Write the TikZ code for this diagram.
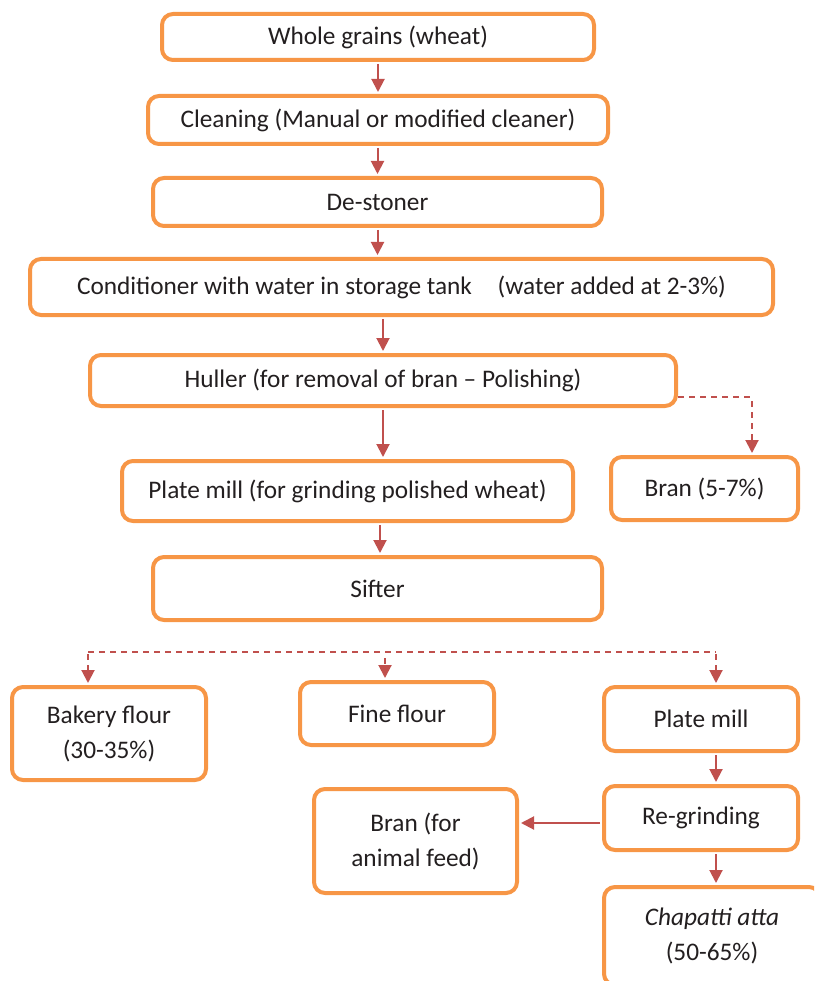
\documentclass[tikz,border=0pt]{standalone}
\usepackage{fontspec}
\setmainfont{Carlito}
\usetikzlibrary{arrows.meta}
\definecolor{boxorange}{HTML}{F79646}
\definecolor{flowred}{HTML}{C0504D}
\definecolor{inktext}{HTML}{231F20}
\tikzset{
  stepbox/.style={draw=boxorange, line width=4pt, rounded corners=11pt, fill=white,
    inner sep=0pt, align=center, text=inktext,
    font=\fontsize{25.3}{35}\selectfont},
  flow/.style={draw=flowred, line width=2pt,
    -{Triangle[length=13pt,width=13pt]}, shorten >=2pt, shorten <=2pt},
  dflow/.style={flow, dash pattern=on 6pt off 5pt},
  dline/.style={draw=flowred, line width=2pt, dash pattern=on 6pt off 5pt}
}
\begin{document}
\begin{tikzpicture}[x=1pt,y=-1pt]
\useasboundingbox (0,0) rectangle (814,981);
\clip (0,0) rectangle (814,981);

% main processing chain
\node[stepbox, minimum width=432pt, minimum height=46pt] (whole) at (378,37) {Whole grains (wheat)};
\node[stepbox, minimum width=460pt, minimum height=48pt] (clean) at (378,120) {Cleaning (Manual or modified cleaner)};
\node[stepbox, minimum width=449pt, minimum height=48pt] (destoner) at (377.5,202) {De-stoner};
\node[stepbox, minimum width=743pt, minimum height=56pt] (cond) at (401.5,287) {Conditioner with water in storage tank\hspace{20pt} (water added at 2-3\%)};
\node[stepbox, minimum width=586pt, minimum height=51pt] (huller) at (383,380.5) {Huller (for removal of bran -- Polishing)};
\node[stepbox, minimum width=451pt, minimum height=60pt] (plate1) at (347.5,491) {Plate mill (for grinding polished wheat)};
\node[stepbox, minimum width=187pt, minimum height=63pt] (bran1) at (704.5,488.5) {Bran (5-7\%)};
\node[stepbox, minimum width=449pt, minimum height=63pt] (sifter) at (377.5,588.5) {Sifter};

% sifter outputs
\node[stepbox, minimum width=194pt, minimum height=93pt] (bakery) at (109,733.5) {Bakery flour\\(30-35\%)};
\node[stepbox, minimum width=194pt, minimum height=63pt] (fine) at (397,713.5) {Fine flour};
\node[stepbox, minimum width=194pt, minimum height=64pt] (plate2) at (701,719) {Plate mill};
\node[stepbox, minimum width=194pt, minimum height=64pt] (regrind) at (701,818) {Re-grinding};
\node[stepbox, minimum width=203pt, minimum height=104pt] (bran2) at (415.5,841) {Bran (for\\animal feed)};
\node[stepbox, minimum width=216pt, minimum height=98pt] (chapatti) at (712,936) {\textit{Chapatti atta}\\(50-65\%)};

% solid connectors
\draw[flow] (whole.south) -- (clean.north);
\draw[flow] (clean.south -| destoner.north) -- (destoner.north);
\draw[flow] (destoner.south) -- (destoner.south |- cond.north);
\draw[flow] (cond.south -| huller.north) -- (huller.north);
\draw[flow] (huller.south) -- (huller.south |- plate1.north);
\draw[flow] (plate1.south -| 380,0) -- (sifter.north -| 380,0);

% bran removed at the huller
\coordinate (branturn) at (752,397);
\draw[dline] ([yshift=-16.5pt]huller.east) -- (branturn);
\draw[dflow] ([yshift=-2pt]branturn) -- (branturn |- bran1.north);

% sifter split
\coordinate (fanL) at (88,652);
\coordinate (fanM) at (385,652);
\coordinate (fanR) at (716,652);
\draw[dline] (fanL) -- (fanR);
\draw[dflow] (fanL) -- (fanL |- bakery.north);
\draw[dflow] ([yshift=-4pt]fanM) -- (fanM |- fine.north);
\draw[dflow] (fanR) -- (fanR |- plate2.north);

% re-grinding branch
\draw[flow] (fanR |- plate2.south) -- (fanR |- regrind.north);
\draw[flow] ([yshift=-5pt]regrind.west) -- ([yshift=-5pt]regrind.west -| bran2.east);
\draw[flow] (fanR |- regrind.south) -- (fanR |- chapatti.north);
\end{tikzpicture}
\end{document}
